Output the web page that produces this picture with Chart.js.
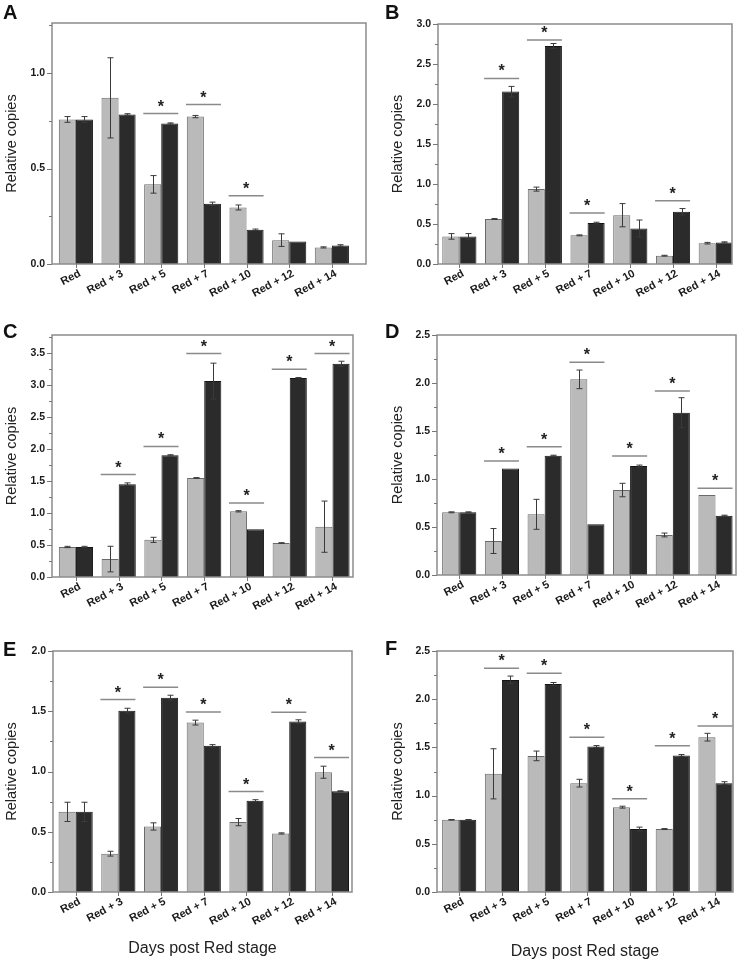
<!DOCTYPE html>
<html>
<head>
<meta charset="utf-8">
<script src="https://cdn.jsdelivr.net/npm/chart.js@4.4.0/dist/chart.umd.min.js"></script>
<style>
body { margin: 0; background: #fff; }
#wrap { position: relative; width: 740px; height: 961px; }
.pan { position: absolute; }
.letter { position: absolute; font: bold 20px "Liberation Sans", Arial, sans-serif; line-height: 20px; color: #111; }
</style>
</head>
<body>
<div id="wrap">
  <div class="pan" style="left:0;top:0"><canvas id="cA" width="370" height="310"></canvas></div>
  <div class="pan" style="left:370px;top:0"><canvas id="cB" width="370" height="310"></canvas></div>
  <div class="pan" style="left:0;top:310px"><canvas id="cC" width="370" height="310"></canvas></div>
  <div class="pan" style="left:370px;top:310px"><canvas id="cD" width="370" height="310"></canvas></div>
  <div class="pan" style="left:0;top:620px"><canvas id="cE" width="370" height="341"></canvas></div>
  <div class="pan" style="left:370px;top:620px"><canvas id="cF" width="370" height="341"></canvas></div>
  <div class="letter" style="left:3px;top:2px">A</div>
  <div class="letter" style="left:385px;top:2px">B</div>
  <div class="letter" style="left:3px;top:321px">C</div>
  <div class="letter" style="left:385px;top:321px">D</div>
  <div class="letter" style="left:3px;top:639px">E</div>
  <div class="letter" style="left:385px;top:638px">F</div>
</div>
<script>
const FONT = '"Liberation Sans", Arial, sans-serif';

// categories
const cats = ["Red", "Red + 3", "Red + 5", "Red + 7", "Red + 10", "Red + 12", "Red + 14"];

// A
const aLight    = [0.757, 0.870, 0.417, 0.772, 0.296, 0.125, 0.087];
const aLightErr = [0.015, 0.210, 0.046, 0.006, 0.013, 0.033, 0.003];
const aDark     = [0.757, 0.783, 0.736, 0.315, 0.179, 0.118, 0.097];
const aDarkErr  = [0.015, 0.004, 0.003, 0.009, 0.004, 0.000, 0.004];
const aSigCat   = [2, 3, 4];
const aSigY     = [0.788, 0.835, 0.358];

// B
const bLight    = [0.345, 0.562, 0.936, 0.358, 0.610, 0.104, 0.260];
const bLightErr = [0.035, 0.006, 0.025, 0.006, 0.145, 0.005, 0.010];
const bDark     = [0.345, 2.155, 2.726, 0.512, 0.445, 0.653, 0.270];
const bDarkErr  = [0.035, 0.065, 0.030, 0.010, 0.105, 0.040, 0.007];
const bSigCat   = [1, 2, 3, 5];
const bSigY     = [2.32, 2.80, 0.637, 0.79];

// C
const cLight    = [0.469, 0.280, 0.580, 1.547, 1.026, 0.531, 0.786];
const cLightErr = [0.010, 0.200, 0.040, 0.005, 0.010, 0.005, 0.400];
const cDark     = [0.469, 1.450, 1.900, 3.060, 0.745, 3.110, 3.330];
const cDarkErr  = [0.010, 0.020, 0.010, 0.280, 0.000, 0.005, 0.040];
const cSigCat   = [1, 2, 3, 4, 5, 6];
const cSigY     = [1.60, 2.04, 3.49, 1.156, 3.245, 3.49];

// D
const dLight    = [0.653, 0.354, 0.632, 2.038, 0.885, 0.417, 0.833];
const dLightErr = [0.005, 0.130, 0.156, 0.097, 0.070, 0.020, 0.000];
const dDark     = [0.653, 1.110, 1.243, 0.528, 1.135, 1.691, 0.618];
const dDarkErr  = [0.005, 0.000, 0.005, 0.000, 0.010, 0.156, 0.005];
const dSigCat   = [1, 2, 3, 4, 5, 6];
const dSigY     = [1.188, 1.337, 2.215, 1.24, 1.917, 0.903];

// E
const eLight    = [0.665, 0.318, 0.544, 1.406, 0.580, 0.486, 0.994];
const eLightErr = [0.080, 0.020, 0.030, 0.020, 0.030, 0.005, 0.050];
const eDark     = [0.665, 1.505, 1.613, 1.213, 0.758, 1.414, 0.837];
const eDarkErr  = [0.080, 0.020, 0.020, 0.010, 0.008, 0.015, 0.003];
const eSigCat   = [1, 2, 3, 4, 5, 6];
const eSigY     = [1.597, 1.70, 1.494, 0.834, 1.492, 1.116];

// F
const fLight    = [0.749, 1.226, 1.412, 1.129, 0.880, 0.653, 1.606];
const fLightErr = [0.003, 0.260, 0.050, 0.040, 0.010, 0.005, 0.040];
const fDark     = [0.749, 2.200, 2.158, 1.509, 0.653, 1.416, 1.129];
const fDarkErr  = [0.003, 0.040, 0.015, 0.010, 0.020, 0.010, 0.015];
const fSigCat   = [1, 2, 3, 4, 5, 6];
const fSigY     = [2.32, 2.27, 1.606, 0.967, 1.516, 1.723];

// error bars, significance marks, frame and tick marks
const decor = {
  id: "decor",
  afterDatasetsDraw(chart, args, opts) {
    const { ctx, chartArea: a, scales: { x, y } } = chart;
    ctx.save();

    // error bars
    ctx.strokeStyle = "#3a3a3a";
    ctx.lineWidth = 1;
    chart.data.datasets.forEach((ds, di) => {
      chart.getDatasetMeta(di).data.forEach((bar, i) => {
        const e = ds.err[i];
        if (!e) return;
        const v = ds.data[i].y;
        const t = y.getPixelForValue(v + e);
        const b = y.getPixelForValue(v - e);
        const bx = Math.round(bar.x) + 0.5;
        ctx.beginPath();
        ctx.moveTo(bx, t); ctx.lineTo(bx, b);
        ctx.moveTo(bx - 3, t); ctx.lineTo(bx + 3, t);
        ctx.moveTo(bx - 3, b); ctx.lineTo(bx + 3, b);
        ctx.stroke();
      });
    });

    // significance lines + stars
    opts.sigCat.forEach((c, k) => {
      const py = y.getPixelForValue(opts.sigY[k]);
      const x1 = x.getPixelForValue(c + 1 - 0.42);
      const x2 = x.getPixelForValue(c + 1 + 0.40);
      ctx.strokeStyle = "#8a8a8a";
      ctx.lineWidth = 1.5;
      ctx.beginPath();
      ctx.moveTo(x1, py); ctx.lineTo(x2, py);
      ctx.stroke();
      ctx.fillStyle = "#222";
      ctx.font = "bold 16px " + FONT;
      ctx.textAlign = "center";
      ctx.textBaseline = "alphabetic";
      ctx.fillText("*", (x1 + x2) / 2, py - 2);
    });

    // frame
    ctx.strokeStyle = "#8c8c8c";
    ctx.lineWidth = 1.5;
    ctx.strokeRect(a.left, a.top, a.right - a.left, a.bottom - a.top);

    // tick marks
    ctx.strokeStyle = "#777";
    ctx.lineWidth = 1;
    y.ticks.forEach(t => {
      const major = Math.abs(t.value * 2 - Math.round(t.value * 2)) < 1e-6;
      const len = major ? 5 : 3;
      const py = Math.round(y.getPixelForValue(t.value)) + 0.5;
      ctx.beginPath();
      ctx.moveTo(a.left - len, py); ctx.lineTo(a.left, py);
      ctx.stroke();
    });
    cats.forEach((c, i) => {
      const px = Math.round(x.getPixelForValue(i + 1)) + 0.5;
      ctx.beginPath();
      ctx.moveTo(px, a.bottom); ctx.lineTo(px, a.bottom + 4);
      ctx.stroke();
    });
    ctx.restore();
  }
};

function makePanel(id, d, p) {
  const pts = arr => arr.map((v, i) => ({ x: i + 1, y: v }));
  return new Chart(document.getElementById(id), {
    type: "bar",
    data: {
      datasets: [
        { data: pts(d.light), err: d.lightErr, backgroundColor: "#bababa", borderColor: "#6a6a6a", borderWidth: 1 },
        { data: pts(d.dark), err: d.darkErr, backgroundColor: "#2b2b2b", borderColor: "#151515", borderWidth: 1 }
      ]
    },
    options: {
      responsive: false,
      animation: false,
      categoryPercentage: 0.80,
      barPercentage: 1.0,
      layout: { padding: { left: 0, top: p.T, right: p.W - p.R, bottom: 0 } },
      plugins: {
        legend: { display: false },
        tooltip: { enabled: false },
        decor: { sigCat: d.sigCat, sigY: d.sigY }
      },
      scales: {
        x: {
          type: "linear", min: p.xMin, max: p.xMax, offset: false,
          afterBuildTicks: s => { s.ticks = cats.map((c, i) => ({ value: i + 1 })); },
          ticks: {
            callback: v => cats[Math.round(v) - 1] || "",
            autoSkip: false, maxRotation: 28, minRotation: 28, labelOffset: 4,
            font: { family: FONT, size: 11, weight: "bold" }, color: "#1a1a1a", padding: 3
          },
          grid: { display: false, drawTicks: false },
          border: { display: false },
          title: {
            display: !!p.xTitle, text: p.xTitle || "",
            font: { family: FONT, size: 16 }, color: "#222",
            padding: { top: 0, bottom: p.xTitlePad || 0 }
          },
          afterFit: s => { s.height = p.H - p.B; }
        },
        y: {
          min: 0, max: p.yMax,
          afterBuildTicks: s => {
            const t = [];
            for (let k = 0; k * 0.25 <= p.yMax + 1e-9; k++) t.push({ value: k * 0.25 });
            s.ticks = t;
          },
          ticks: {
            callback: v => (Math.abs(v * 2 - Math.round(v * 2)) < 1e-6 ? v.toFixed(1) : ""),
            autoSkip: false,
            font: { family: FONT, size: 10.5, weight: "bold" }, color: "#1a1a1a", padding: 7
          },
          grid: { display: false, drawTicks: false },
          border: { display: false },
          title: {
            display: true, text: "Relative copies",
            font: { family: FONT, size: 14.5 }, color: "#222",
            padding: { top: p.yTitlePad, bottom: 0 }
          },
          afterFit: s => { s.width = p.L; }
        }
      }
    },
    plugins: [decor]
  });
}

makePanel("cA",
  { light: aLight, lightErr: aLightErr, dark: aDark, darkErr: aDarkErr, sigCat: aSigCat, sigY: aSigY },
  { W: 370, H: 310, L: 52, R: 366, T: 23, B: 264, yMax: 1.262, xMin: 0.44, xMax: 7.80, yTitlePad: 3 });
makePanel("cB",
  { light: bLight, lightErr: bLightErr, dark: bDark, darkErr: bDarkErr, sigCat: bSigCat, sigY: bSigY },
  { W: 370, H: 310, L: 68, R: 362, T: 24, B: 264, yMax: 3.0, xMin: 0.50, xMax: 7.38, yTitlePad: 19 });
makePanel("cC",
  { light: cLight, lightErr: cLightErr, dark: cDark, darkErr: cDarkErr, sigCat: cSigCat, sigY: cSigY },
  { W: 370, H: 310, L: 52, R: 353, T: 25, B: 267, yMax: 3.78, xMin: 0.44, xMax: 7.48, yTitlePad: 3 });
makePanel("cD",
  { light: dLight, lightErr: dLightErr, dark: dDark, darkErr: dDarkErr, sigCat: dSigCat, sigY: dSigY },
  { W: 370, H: 310, L: 67, R: 366, T: 25, B: 265, yMax: 2.5, xMin: 0.48, xMax: 7.48, yTitlePad: 19 });
makePanel("cE",
  { light: eLight, lightErr: eLightErr, dark: eDark, darkErr: eDarkErr, sigCat: eSigCat, sigY: eSigY },
  { W: 370, H: 341, L: 53, R: 352, T: 31, B: 272, yMax: 2.0, xMin: 0.47, xMax: 7.47, yTitlePad: 3,
    xTitle: "Days post Red stage", xTitlePad: 3 });
makePanel("cF",
  { light: fLight, lightErr: fLightErr, dark: fDark, darkErr: fDarkErr, sigCat: fSigCat, sigY: fSigY },
  { W: 370, H: 341, L: 67, R: 363, T: 31, B: 272, yMax: 2.5, xMin: 0.48, xMax: 7.41, yTitlePad: 19,
    xTitle: "Days post Red stage", xTitlePad: 0 });
</script>
</body>
</html>
